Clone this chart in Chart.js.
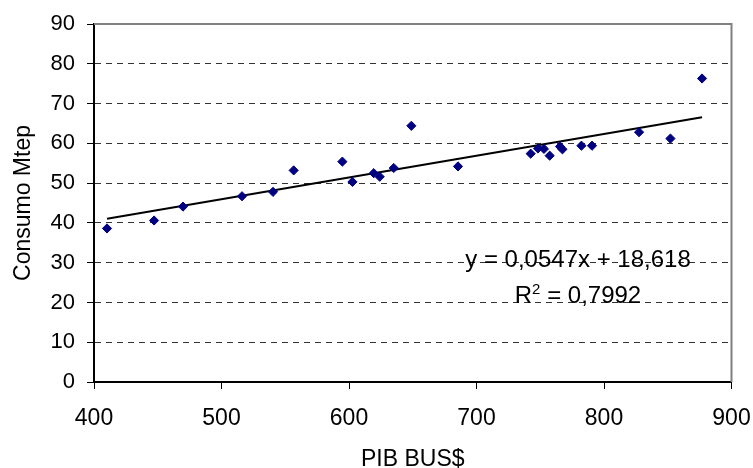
<!DOCTYPE html>
<html>
<head>
<meta charset="utf-8">
<script src="https://cdn.jsdelivr.net/npm/chart.js@4/dist/chart.umd.min.js"></script>
<style>
  html, body { margin: 0; padding: 0; background: #fff; }
  #wrap { width: 753px; height: 468px; position: relative; }
</style>
</head>
<body>
<div id="wrap"><canvas id="c" width="753" height="468"></canvas></div>
<script>
// Data
const pibValues = [410.2, 447.1, 469.8, 516.1, 540.4, 556.6, 594.8, 602.7, 619.4, 624.1, 635.1, 648.9, 685.5, 742.5, 748.2, 752.9, 757.4, 765.5, 767.4, 782.3, 790.6, 827.5, 852.1, 876.9];
const consumoValues = [38.6, 40.6, 44.1, 46.7, 47.8, 53.2, 55.4, 50.3, 52.5, 51.6, 53.8, 64.4, 54.2, 57.4, 58.7, 58.6, 56.9, 59.2, 58.5, 59.4, 59.4, 62.8, 61.2, 76.3];
const trendSlope = 0.0547;
const trendIntercept = 18.618;
const equationText = 'y = 0,0547x + 18,618';
const r2Label = 'R';
const r2Sup = '2';
const r2Value = ' = 0,7992';
const xTitle = 'PIB BUS$';
const yTitle = 'Consumo Mtep';

const points = pibValues.map((x, i) => ({ x: x, y: consumoValues[i] }));
const xMin = Math.min(...pibValues), xMax = Math.max(...pibValues);
const trendPoints = [xMin, xMax].map(x => ({ x: x, y: trendSlope * x + trendIntercept }));

const FONT = 'Liberation Sans, Arial, sans-serif';

const framePlugin = {
  id: 'frame',
  afterDatasetsDraw(chart) {
    const { ctx, chartArea: a } = chart;
    ctx.save();
    ctx.strokeStyle = '#808080';
    ctx.lineWidth = 2;
    ctx.setLineDash([]);
    ctx.beginPath();
    ctx.moveTo(a.left, a.top);
    ctx.lineTo(a.right, a.top);
    ctx.lineTo(a.right, a.bottom);
    ctx.stroke();
    ctx.restore();
  },
  afterDraw(chart) {
    const { ctx } = chart;
    ctx.save();
    ctx.fillStyle = '#000';
    ctx.textBaseline = 'alphabetic';
    const cx = 578;
    ctx.font = '24px ' + FONT;
    ctx.textAlign = 'center';
    ctx.fillText(equationText, cx, 267);
    // R² line with superscript
    ctx.textAlign = 'left';
    ctx.font = '24px ' + FONT;
    const wR = ctx.measureText(r2Label).width;
    const wV = ctx.measureText(r2Value).width;
    ctx.font = '15px ' + FONT;
    const wS = ctx.measureText(r2Sup).width;
    const total = wR + wS + wV;
    const x0 = cx - total / 2;
    const base = 302.5;
    ctx.font = '24px ' + FONT;
    ctx.fillText(r2Label, x0, base);
    ctx.font = '15px ' + FONT;
    ctx.fillText(r2Sup, x0 + wR, base - 9);
    ctx.font = '24px ' + FONT;
    ctx.fillText(r2Value, x0 + wR + wS, base);
    ctx.restore();
  }
};

new Chart(document.getElementById('c'), {
  type: 'scatter',
  data: {
    datasets: [
      { label: 'trend', type: 'line', data: trendPoints, borderColor: '#000', borderWidth: 2, pointRadius: 0, fill: false, order: 2 },
      { label: 'data', data: points, pointStyle: 'rectRot', pointRadius: 4.6, pointBackgroundColor: '#000080', pointBorderColor: '#000080', pointBorderWidth: 1, order: 1 }
    ]
  },
  options: {
    responsive: false,
    animation: false,
    devicePixelRatio: 1,
    layout: { padding: { top: 24, right: 21.5, left: 6, bottom: 0 } },
    plugins: { legend: { display: false }, tooltip: { enabled: false } },
    scales: {
      x: {
        type: 'linear',
        min: 400, max: 900,
        ticks: { stepSize: 100, color: '#000', font: { size: 23, family: FONT }, padding: 16, maxRotation: 0 },
        grid: { drawOnChartArea: false, drawTicks: true, tickLength: 7, tickColor: '#000', tickWidth: 1 },
        border: { color: '#000', width: 2 },
        title: { display: true, text: xTitle, color: '#000', font: { size: 23, family: FONT }, padding: { top: 0, bottom: -5 } },
        afterFit(s) { s.height = 86; s.paddingRight = 0; s.paddingLeft = 0; }
      },
      y: {
        min: 0, max: 90,
        ticks: { stepSize: 10, color: '#000', font: { size: 22, family: FONT }, padding: 12 },
        grid: {
          color: (c) => (c.tick && (c.tick.value === 90 || c.tick.value === 0)) ? 'rgba(0,0,0,0)' : '#333',
          lineWidth: 1, drawTicks: true, tickLength: 7, tickColor: '#000', tickBorderDash: [],
        },
        border: { color: '#000', width: 2, dash: [6, 5] },
        title: { display: true, text: yTitle, color: '#000', font: { size: 23, family: FONT }, padding: { bottom: 4 } },
        afterFit(s) { s.width = 88; s.paddingTop = 0; s.paddingBottom = 0; }
      }
    }
  },
  plugins: [framePlugin]
});
</script>
</body>
</html>
